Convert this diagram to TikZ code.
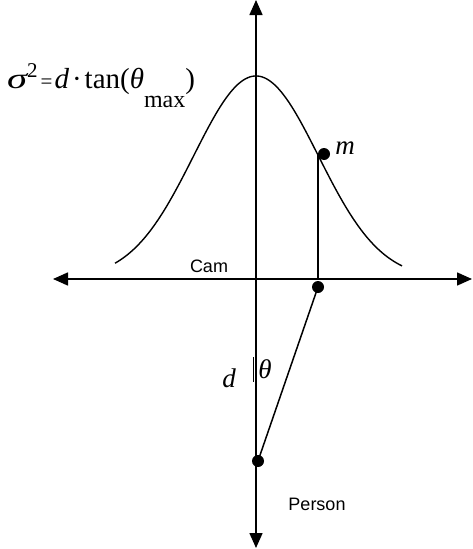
\documentclass[tikz,border=0pt]{standalone}
\usepackage{fontspec}
\setmainfont{Liberation Serif}
\setsansfont{Liberation Sans}
\usetikzlibrary{arrows.meta}
\tikzset{
  axis/.style={line width=1.6pt,-{Triangle[width=13pt,length=15pt]}},
  curve/.style={line width=1.4pt},
  seg/.style={line width=1.5pt},
  dot/.style={circle,fill=black,inner sep=0pt,minimum size=12pt},
  sanslabel/.style={font=\sffamily\fontsize{18}{18}\selectfont,inner sep=0pt,anchor=base},
  mathlabel/.style={font=\itshape\fontsize{27}{27}\selectfont,inner sep=0pt,anchor=base}
}
\begin{document}
\begin{tikzpicture}[x=1pt,y=-1pt]
\useasboundingbox (0,0) rectangle (472,549);
\coordinate (O) at (256,279);
\coordinate (top) at (256,0);
\coordinate (bot) at (256,548);
\coordinate (lft) at (53,279);
\coordinate (rgt) at (472,279);
\coordinate (foot) at (318,279);
\coordinate (cpt) at (318,155);
\node[dot] (mdot) at (324,154) {};
\node[dot] (cdot) at (318,287) {};
\node[dot] (pdot) at (258,461) {};
% axes
\draw[axis] (O) -- (top);
\draw[axis] (O) -- (bot);
\draw[axis] (O) -- (lft);
\draw[axis] (O) -- (rgt);
% gaussian
\draw[curve] plot[domain=115:402,samples=120,smooth] (\x,{279-203*exp(((\x-256)/100)^2/(-0.7782))});
% lines
\draw[seg] (foot) -- (cpt);
\draw[seg] (cdot.center) -- (pdot.center);
\coordinate (ta) at (253.5,357);
\coordinate (tb) at (253.5,382);
\draw[line width=1.6pt] (ta) -- (tb);
% labels
\node[mathlabel] (m) at (345,154) {m};
\node[mathlabel] (d) at (229,387) {d};
\node[mathlabel] (th) at (265,378) {θ};
\node[sanslabel] (cam) at (209,272) {Cam};
\node[sanslabel] (person) at (317,510) {Person};
\node[inner sep=0pt,anchor=base west,font=\fontsize{29}{29}\selectfont] (eq) at (7,88)
  {\scalebox{1.4}[1]{\itshape σ}\raisebox{11pt}{\fontsize{21}{21}\selectfont 2}\kern3pt{\fontsize{21}{21}\selectfont =}\kern2pt{\itshape d}\kern3pt·\kern3pt tan({\itshape θ}\raisebox{-19pt}{\fontsize{24}{24}\selectfont max})};
\end{tikzpicture}
\end{document}
